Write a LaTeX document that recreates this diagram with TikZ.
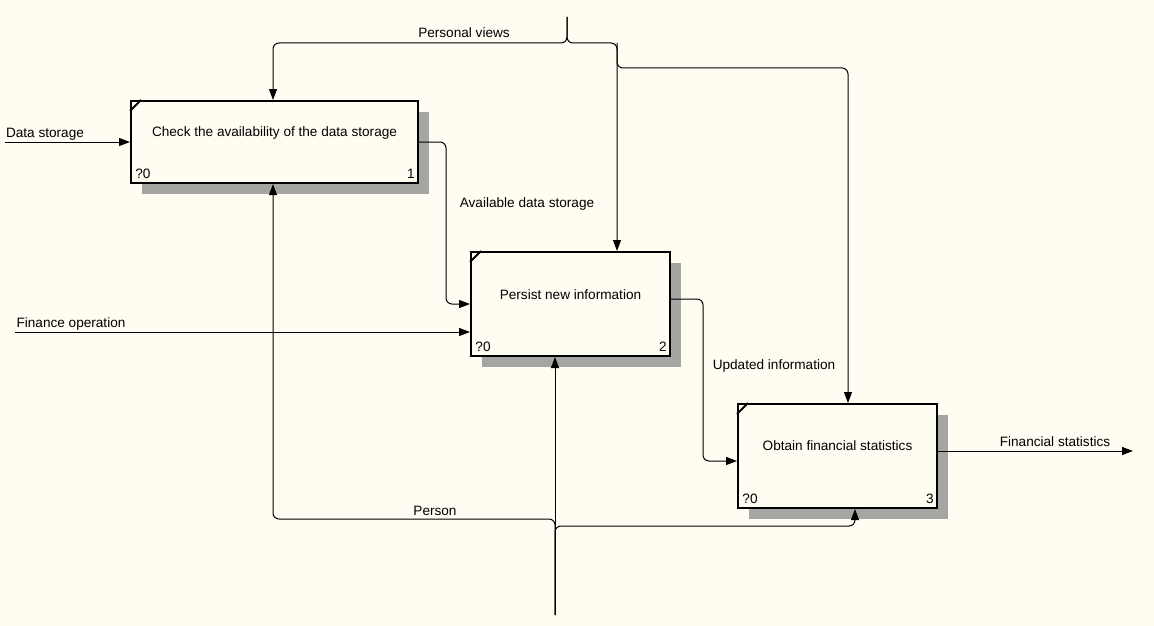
\documentclass[tikz,border=0pt]{standalone}
\usepackage{fontspec}
\setmainfont{Liberation Sans}
\usetikzlibrary{arrows.meta,calc,shadows}
\definecolor{bg}{RGB}{255,252,242}
\definecolor{shade}{RGB}{165,165,162}
\begin{document}
\begin{tikzpicture}[x=1pt,y=-1pt,
  font=\fontsize{13.6}{16}\selectfont,
  box/.style={draw, line width=2pt, fill=bg, inner sep=0pt,
    drop shadow={shadow xshift=11pt, shadow yshift=-11pt, opacity=1, fill=shade}},
  conn/.style={line width=1pt, rounded corners=6pt},
  arr/.style={conn, -{Triangle[length=11pt,width=8pt]}},
  tick/.style={line width=1.8pt},
  lbl/.style={inner sep=0pt, anchor=center, text height=10pt, text depth=3pt}]
\fill[bg] (0,0) rectangle (1154,626);
\useasboundingbox (0,0) rectangle (1154,626);

% boxes
\node[box, minimum width=287pt, minimum height=82pt] (b1) at (274.5,142) {};
\node[box, minimum width=199pt, minimum height=104pt] (b2) at (570.5,304) {};
\node[box, minimum width=199pt, minimum height=104pt] (b3) at (837.5,456) {};

\foreach \b/\n in {b1/1,b2/2,b3/3}{
  \draw[tick] ($(\b.north west)+(0,11)$) -- ($(\b.north west)+(11,0)$);
  \node[lbl] (\b q) at ($(\b.south west)+(13,-9)$) {?0};
  \node[lbl] (\b n) at ($(\b.south east)+(-8,-9)$) {\n};
}
\node[lbl] (t1) at ($(b1.center)+(0,-9.5)$) {Check the availability of the data storage};
\node[lbl] (t2) at ($(b2.center)+(0,-8.5)$) {Persist new information};
\node[lbl] (t3) at ($(b3.center)+(0,-9.5)$) {Obtain financial statistics};

% free ends
\coordinate (dsin) at (5,142);
\coordinate (foin) at (15,332);
\coordinate (fsout) at (1133,451);
\coordinate (pvtop) at (567,17);
\coordinate (pbot) at (555,615);

% inputs
\draw[arr] (dsin) -- (b1.west);
\draw[arr] (foin) -- (foin -| b2.west);
% b1 -> b2
\draw[arr] (b1.east) -- ($(b1.east)+(27,0)$) |- (b2.west);
% b2 -> b3
\draw[arr] ($(b2.east)+(0,-5)$) -- ($(b2.east)+(32,-5)$) |- ($(b3.west)+(0,5)$);
% output
\draw[arr] ($(b3.east)+(0,-5)$) -- (fsout);

% controls
\draw[arr] (pvtop) -- (567,43) -- (273,43) -- (b1.north -| 273,0);
\draw[arr] (pvtop) -- (567,43) -- (617,43) -- (b2.north -| 617,0);
\draw[arr] (617,43) -- (617,68) -- (848,68) -- (b3.north -| 848,0);

% mechanisms
\draw[arr] (pbot) -- (b2.south -| pbot);
\draw[arr] (pbot) -- (555,519) -- (273,519) -- (b1.south -| 273,0);
\draw[arr] (pbot) -- (555,526) -- (855,526) -- (b3.south -| 855,0);

% labels
\node[lbl] (lds) at (45,133.5) {Data storage};
\node[lbl] (lfo) at (71,323.5) {Finance operation};
\node[lbl] (lpv) at (464,34.5) {Personal views};
\node[lbl] (lads) at (527,203.5) {Available data storage};
\node[lbl] (lui) at (774,365.5) {Updated information};
\node[lbl] (lfs) at (1055,442.5) {Financial statistics};
\node[lbl] (lp) at (435,511.5) {Person};
\end{tikzpicture}
\end{document}
